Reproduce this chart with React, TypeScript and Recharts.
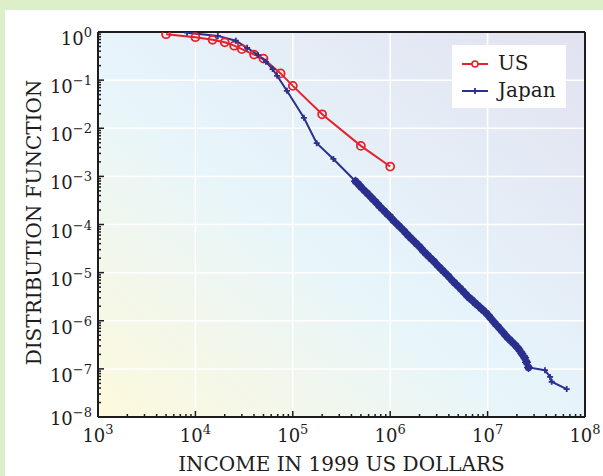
import {
  CartesianGrid,
  Line,
  LineChart,
  ReferenceLine,
  XAxis,
  YAxis,
} from "recharts";

// Cumulative income distribution, US vs Japan (log-log)

const usIncome = [
  5000, 10000, 15000, 20000, 25000, 30000, 40000, 50000, 75000, 100000, 200000,
  500000, 1000000,
];
const usShare = [
  0.9, 0.78, 0.69, 0.61, 0.52, 0.44, 0.34, 0.28, 0.138, 0.076, 0.0195, 0.0043,
  0.0016,
];

const japanIncome = [
  8200, 17000, 26000, 34000, 44000, 53000, 62000, 69000, 87000, 130000, 176000,
  261000, 4.4e5, 4.7e5, 5.0e5, 5.4e5, 5.8e5, 6.2e5, 6.6e5, 7.1e5, 7.6e5, 8.1e5,
  8.7e5, 9.3e5, 1.0e6, 1.07e6, 1.15e6, 1.23e6, 1.32e6, 1.41e6, 1.51e6, 1.62e6,
  1.74e6, 1.86e6, 2.0e6, 2.14e6, 2.29e6, 2.45e6, 2.63e6, 2.82e6, 3.02e6, 3.24e6,
  3.47e6, 3.72e6, 3.98e6, 4.27e6, 4.57e6, 4.9e6, 5.25e6, 5.62e6, 6.03e6, 6.46e6,
  6.92e6, 7.41e6, 7.94e6, 8.51e6, 9.12e6, 9.77e6, 1.05e7, 1.12e7, 1.2e7, 1.29e7,
  1.38e7, 1.48e7, 1.58e7, 1.7e7, 1.82e7, 1.95e7, 2.09e7, 2.24e7, 2.4e7, 2.51e7,
  2.63e7, 3.88e7, 4.38e7, 4.55e7, 6.49e7,
];
const japanShare = [
  0.97, 0.83, 0.66, 0.47, 0.33, 0.24, 0.17, 0.123, 0.06, 0.0165, 0.0049, 0.0023,
  7.94e-4, 6.92e-4, 6.03e-4, 5.13e-4, 4.47e-4, 3.89e-4, 3.39e-4, 2.95e-4,
  2.51e-4, 2.19e-4, 1.91e-4, 1.66e-4, 1.45e-4, 1.23e-4, 1.07e-4, 9.33e-5,
  8.13e-5, 7.08e-5, 6.03e-5, 5.25e-5, 4.57e-5, 3.98e-5, 3.47e-5, 2.95e-5,
  2.57e-5, 2.24e-5, 1.95e-5, 1.7e-5, 1.45e-5, 1.26e-5, 1.1e-5, 9.55e-6, 8.32e-6,
  7.08e-6, 6.17e-6, 5.37e-6, 4.68e-6, 4.07e-6, 3.47e-6, 3.02e-6, 2.69e-6,
  2.34e-6, 2.09e-6, 1.82e-6, 1.62e-6, 1.41e-6, 1.2e-6, 1.02e-6, 8.71e-7, 7.41e-7,
  6.31e-7, 5.37e-7, 4.57e-7, 3.98e-7, 3.47e-7, 3.02e-7, 2.57e-7, 2.09e-7,
  1.7e-7, 1.38e-7, 1.07e-7, 9.4e-8, 6.8e-8, 5.4e-8, 3.8e-8,
];

const xMajorTicks = [1e3, 1e4, 1e5, 1e6, 1e7, 1e8];
const yMajorTicks = [1e-8, 1e-7, 1e-6, 1e-5, 1e-4, 1e-3, 1e-2, 1e-1, 1];
const minorSteps = [2, 3, 4, 5, 6, 7, 8, 9];

const xTicks = [
  ...xMajorTicks,
  ...xMajorTicks.slice(0, -1).flatMap((d) => minorSteps.map((m) => d * m)),
];
const yTicks = [
  ...yMajorTicks,
  ...yMajorTicks.slice(0, -1).flatMap((d) => minorSteps.map((m) => d * m)),
];

const usData = usIncome.map((income, i) => ({ income, share: usShare[i] }));
const japanData = japanIncome.map((income, i) => ({
  income,
  share: japanShare[i],
}));

const FONT = "'DejaVu Serif', 'Liberation Serif', serif";
const INK = "#1e1c1c";
const RED = "#e5222b";
const BLUE = "#2b2f8e";

const exponentOf = (v: number) => Math.round(Math.log10(v));
const isMajor = (v: number) =>
  Math.abs(Math.log10(v) - exponentOf(v)) < 1e-6;
const sup = (e: number) => (e < 0 ? `\u2212${-e}` : `${e}`);

function XTick({ x, y, payload }: any) {
  const v = payload.value as number;
  const major = isMajor(v);
  return (
    <g>
      <line
        x1={x}
        x2={x}
        y1={y}
        y2={y - (major ? 6 : 3)}
        stroke={INK}
        strokeWidth={1.5}
      />
      {major && (
        <text
          x={x}
          y={y + 25}
          textAnchor="middle"
          fontFamily={FONT}
          fontSize={18}
          fill={INK}
        >
          10
          <tspan fontSize={13} dy={-8}>
            {sup(exponentOf(v))}
          </tspan>
        </text>
      )}
    </g>
  );
}

function YTick({ x, y, payload }: any) {
  const v = payload.value as number;
  const major = isMajor(v);
  const e = exponentOf(v);
  return (
    <g>
      <line
        x1={x}
        x2={x + (major ? 6 : 3)}
        y1={y}
        y2={y}
        stroke={INK}
        strokeWidth={1.5}
      />
      {major && (
        <text
          x={x - 6}
          y={y + (e === -8 ? 8 : 13)}
          textAnchor="end"
          fontFamily={FONT}
          fontSize={18}
          fill={INK}
        >
          10
          <tspan fontSize={13} dy={-8}>
            {sup(e)}
          </tspan>
        </text>
      )}
    </g>
  );
}

function CircleDot({ cx, cy }: any) {
  return (
    <circle cx={cx} cy={cy} r={4} fill="none" stroke={RED} strokeWidth={1.8} />
  );
}

// markers in the tightly packed tail overlap into a solid band
function PlusDot({ cx, cy, payload }: any) {
  const packed = payload.income >= 4e5 && payload.income <= 2.7e7;
  if (packed) {
    return (
      <g>
        <circle cx={cx} cy={cy} r={3.7} fill={BLUE} />
        <path
          d={`M${cx - 4.5},${cy}H${cx + 4.5}M${cx},${cy - 4.5}V${cy + 4.5}`}
          stroke={BLUE}
          strokeWidth={1.5}
        />
      </g>
    );
  }
  return (
    <path
      d={`M${cx - 3},${cy}H${cx + 3}M${cx},${cy - 3}V${cy + 3}`}
      stroke={BLUE}
      strokeWidth={1.8}
      fill="none"
    />
  );
}

function YTitle({ viewBox }: any) {
  const cx = 41;
  const cy = viewBox.y + viewBox.height / 2 - 2;
  return (
    <text
      x={cx}
      y={cy}
      transform={`rotate(-90, ${cx}, ${cy})`}
      textAnchor="middle"
      fontFamily={FONT}
      fontSize={20}
      fill={INK}
    >
      DISTRIBUTION FUNCTION
    </text>
  );
}

function LegendBox() {
  const row = (label: string, color: string, marker: "circle" | "plus") => (
    <div style={{ display: "flex", alignItems: "center", height: 27 }}>
      <svg width={30} height={14} style={{ marginRight: 8 }}>
        <line x1={2} x2={28} y1={7} y2={7} stroke={color} strokeWidth={2} />
        {marker === "circle" ? (
          <circle cx={15} cy={7} r={3} fill="#fff" stroke={color} strokeWidth={1.6} />
        ) : (
          <path d="M12,7H18M15,4V10" stroke={color} strokeWidth={1.8} />
        )}
      </svg>
      <span>{label}</span>
    </div>
  );
  return (
    <div
      style={{
        position: "absolute",
        left: 452,
        top: 45,
        width: 114,
        height: 63,
        background: "#fff",
        boxSizing: "border-box",
        padding: "5px 0 0 8px",
        fontFamily: FONT,
        fontSize: 20,
        color: INK,
        lineHeight: "27px",
      }}
    >
      {row("US", RED, "circle")}
      {row("Japan", BLUE, "plus")}
    </div>
  );
}

export default function App() {
  return (
    <div
      style={{
        position: "absolute",
        left: 0,
        top: 0,
        width: 603,
        height: 476,
        background: "#dcefc8",
        overflow: "hidden",
      }}
    >
      <div
        style={{
          position: "absolute",
          left: 5,
          top: 10,
          right: 0,
          bottom: 0,
          background: "#fff",
        }}
      />
      <div style={{ position: "absolute", left: 0, top: 0 }}>
        <LineChart
          width={603}
          height={476}
          margin={{ top: 32, right: 18, left: 0, bottom: 0 }}
        >
          <defs>
            <linearGradient id="plotBg" x1="0" y1="1" x2="1" y2="0">
              <stop offset="0%" stopColor="#fdf9dc" />
              <stop offset="45%" stopColor="#e7f5fb" />
              <stop offset="100%" stopColor="#e2e2f0" />
            </linearGradient>
          </defs>
          <CartesianGrid
            fill="url(#plotBg)"
            fillOpacity={1}
            stroke="#ffffff"
            strokeWidth={1.5}
            horizontalValues={yMajorTicks}
            verticalValues={xMajorTicks}
          />
          <XAxis
            dataKey="income"
            type="number"
            scale="log"
            domain={[1e3, 1e8]}
            allowDataOverflow
            ticks={xTicks}
            interval={0}
            height={59}
            tickSize={0}
            tickMargin={0}
            tickLine={false}
            axisLine={{ stroke: INK, strokeWidth: 2 }}
            tick={<XTick />}
            label={{
              value: "INCOME IN 1999 US DOLLARS",
              position: "insideBottom",
              offset: 5,
              fontFamily: FONT,
              fontSize: 20,
              fill: INK,
            }}
          />
          <YAxis
            dataKey="share"
            type="number"
            scale="log"
            domain={[1e-8, 1]}
            allowDataOverflow
            ticks={yTicks}
            interval={0}
            width={98}
            tickSize={0}
            tickMargin={0}
            tickLine={false}
            axisLine={{ stroke: INK, strokeWidth: 2 }}
            tick={<YTick />}
            label={<YTitle />}
          />
          <ReferenceLine y={1} stroke={INK} strokeWidth={2} />
          <ReferenceLine x={1e8} stroke={INK} strokeWidth={2} />
          <Line
            data={usData}
            dataKey="share"
            stroke={RED}
            strokeWidth={2}
            dot={(p: any) => <CircleDot {...p} key={`us-${p.index}`} />}
            isAnimationActive={false}
          />
          <Line
            data={japanData}
            dataKey="share"
            stroke={BLUE}
            strokeWidth={2}
            dot={(p: any) => <PlusDot {...p} key={`jp-${p.index}`} />}
            isAnimationActive={false}
          />
        </LineChart>
      </div>
      <LegendBox />
    </div>
  );
}
